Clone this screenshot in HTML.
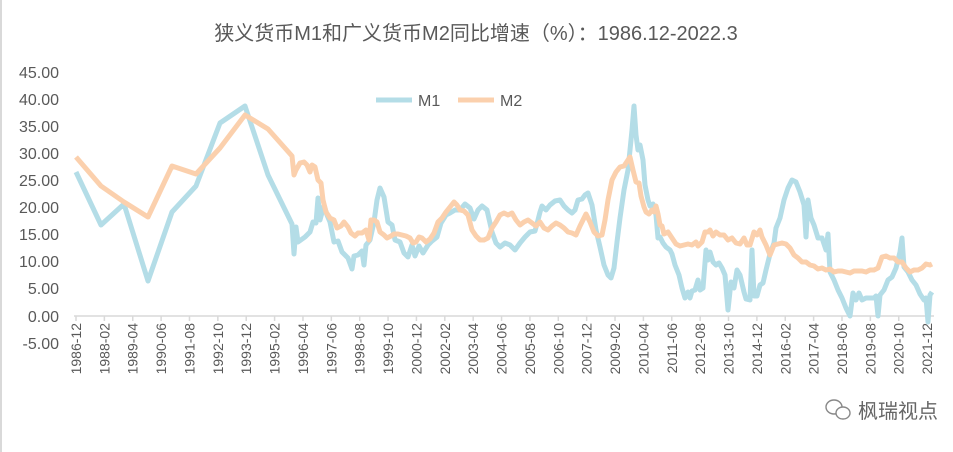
<!DOCTYPE html>
<html><head><meta charset="utf-8"><style>
html,body{margin:0;padding:0;background:#fff;}
svg{display:block;}
text{font-family:"Liberation Sans","Noto Sans CJK SC",sans-serif;fill:#595959;}
</style></head><body>
<svg width="953" height="452" viewBox="0 0 953 452" xmlns="http://www.w3.org/2000/svg">
<rect x="0" y="0" width="953" height="452" fill="#fff"/>
<line x1="1" y1="0" x2="1" y2="452" stroke="#d9d9d9" stroke-width="2"/>
<text x="476" y="40" font-size="20" text-anchor="middle">狭义货币M1和广义货币M2同比增速（%）：1986.12-2022.3</text>
<g font-size="16" text-anchor="end">
<text x="59" y="78">45.00</text><text x="59" y="105">40.00</text><text x="59" y="132">35.00</text>
<text x="59" y="159">30.00</text><text x="59" y="186">25.00</text><text x="59" y="213">20.00</text>
<text x="59" y="240">15.00</text><text x="59" y="267">10.00</text><text x="59" y="294">5.00</text>
<text x="59" y="322">0.00</text><text x="59" y="349">-5.00</text>
</g>
<line x1="74" y1="316" x2="934" y2="316" stroke="#d9d9d9" stroke-width="1.5"/>
<g id="ticks" stroke="#d9d9d9" stroke-width="1.5"></g>
<g id="xl" font-size="14"></g>
<polyline fill="none" stroke="#b4dde7" stroke-width="5" stroke-linejoin="round" points="76,172 101,225 124,204 148,281 172,212 196,186 220,123 245,106 268,175 292,224 294,254 296,227 298,242 305,237 310,232 313,222 316,223 318,198 320,220 324,205 327,215 330,222 334,242 338,241 342,252 348,258 352,269 354,256 358,255 362,251 364,265 366,245 370,240 374,222 377,200 380,188 384,197 388,222 392,225 395,240 400,242 404,253 408,257 412,245 415,256 419,246 423,253 428,245 432,241 437,237 441,223 446,215 450,213 455,210 460,210 465,204 470,208 474,219 478,210 482,206 487,210 492,232 496,243 500,247 505,243 510,245 515,250 520,243 525,237 530,232 535,231 538,220 540,212 542,206 546,210 550,205 555,201 560,200 564,206 568,210 572,213 575,210 578,200 582,199 585,195 588,193 592,205 596,230 600,247 604,265 608,275 611,278 614,268 617,242 620,218 624,190 628,170 630,150 632,130 634,106 636,135 638,150 640,145 643,160 645,185 648,200 650,206 653,204 656,215 658,238 660,237 663,243 666,247 670,250 672,254 675,265 679,275 682,288 685,298 688,292 690,298 692,291 695,290 698,280 700,290 703,288 706,250 708,260 710,252 713,262 716,265 719,263 722,268 725,275 728,310 731,282 734,288 737,270 740,275 744,292 746,299 750,300 752,250 754,296 757,296 760,285 763,283 766,270 770,254 774,243 776,228 780,218 784,200 788,188 792,180 796,182 800,192 804,205 806,237 808,200 811,218 814,225 818,238 822,238 826,250 828,234 830,272 834,280 838,290 842,298 846,308 850,316 853,293 856,300 859,293 862,300 866,298 870,298 874,298 876,296 878,316 880,295 884,290 888,280 892,277 896,268 900,252 902,238 904,267 908,272 912,280 916,285 920,294 924,300 926,298 928,322 930,295 932,292"/>
<polyline fill="none" stroke="#fbd0ad" stroke-width="5" stroke-linejoin="round" points="76,157 101,186 124,202 148,217 172,166 196,174 220,148 245,115 268,129 292,156 294,175 296,170 300,163 304,162 307,165 310,172 312,165 315,167 318,180 321,183 323,200 326,212 330,218 334,220 337,228 341,226 344,222 348,227 351,233 355,236 358,233 362,233 366,230 369,240 371,220 374,220 377,222 380,232 384,235 387,238 391,236 394,234 398,234 402,235 406,236 410,238 413,243 416,242 419,237 422,238 426,242 430,239 434,233 438,222 442,218 446,212 450,207 454,202 457,205 460,210 464,211 468,215 472,230 476,236 480,240 484,240 488,238 492,228 496,222 500,215 504,213 508,215 512,213 516,220 520,225 524,222 528,220 532,223 536,226 540,222 544,228 548,230 552,226 556,223 560,225 564,228 568,232 572,233 576,235 580,226 584,218 586,214 590,222 594,232 598,236 602,235 605,220 608,200 612,180 616,172 620,167 624,166 628,160 630,157 633,170 636,182 639,183 641,196 644,207 646,212 649,214 652,210 654,212 656,206 658,214 660,225 662,226 664,234 668,232 672,238 676,244 680,246 684,245 688,244 692,245 696,242 698,246 702,242 705,232 708,232 710,230 713,236 716,232 720,235 724,235 728,240 732,238 736,243 740,244 744,238 747,245 750,245 754,232 757,235 760,230 762,237 766,245 770,255 774,245 778,244 782,243 786,244 790,248 794,255 798,258 802,262 806,262 810,265 814,266 818,269 822,268 826,270 830,269 834,272 838,271 842,271 846,272 850,273 854,271 858,271 862,271 866,272 870,270 874,270 878,268 882,257 886,256 890,258 894,258 898,262 902,262 906,268 910,272 914,270 918,270 922,268 926,264 930,265 932,264"/>
<line x1="376" y1="100" x2="412" y2="100" stroke="#b4dde7" stroke-width="5"/>
<text x="418" y="106" font-size="16">M1</text>
<line x1="458" y1="100" x2="494" y2="100" stroke="#fbd0ad" stroke-width="5"/>
<text x="500" y="106" font-size="16">M2</text>
<g transform="translate(828,409)">
<ellipse cx="6" cy="-2" rx="8" ry="7" fill="none" stroke="#888" stroke-width="1.4"/>
<ellipse cx="15" cy="4" rx="7" ry="6" fill="#fff" stroke="#888" stroke-width="1.4"/>
</g>
<text x="858" y="418" font-size="20" style="fill:#666">枫瑞视点</text>
<script>
var labs="1986-12 1988-02 1989-04 1990-06 1991-08 1992-10 1993-12 1995-02 1996-04 1997-06 1998-08 1999-10 2000-12 2002-02 2003-04 2004-06 2005-08 2006-10 2007-12 2009-02 2010-04 2011-06 2012-08 2013-10 2014-12 2016-02 2017-04 2018-06 2019-08 2020-10 2021-12".split(" ");
var ns="http://www.w3.org/2000/svg",g=document.getElementById("xl"),tg=document.getElementById("ticks");
labs.forEach(function(l,i){var x=76+i*28.37;
var t=document.createElementNS(ns,"text");t.setAttribute("transform","translate("+(x+5)+",323) rotate(-90)");t.setAttribute("text-anchor","end");t.setAttribute("font-size","14");t.textContent=l;g.appendChild(t);
var k=document.createElementNS(ns,"line");k.setAttribute("x1",x);k.setAttribute("x2",x);k.setAttribute("y1",316);k.setAttribute("y2",321);tg.appendChild(k);});
</script>
</svg>
</body></html>
